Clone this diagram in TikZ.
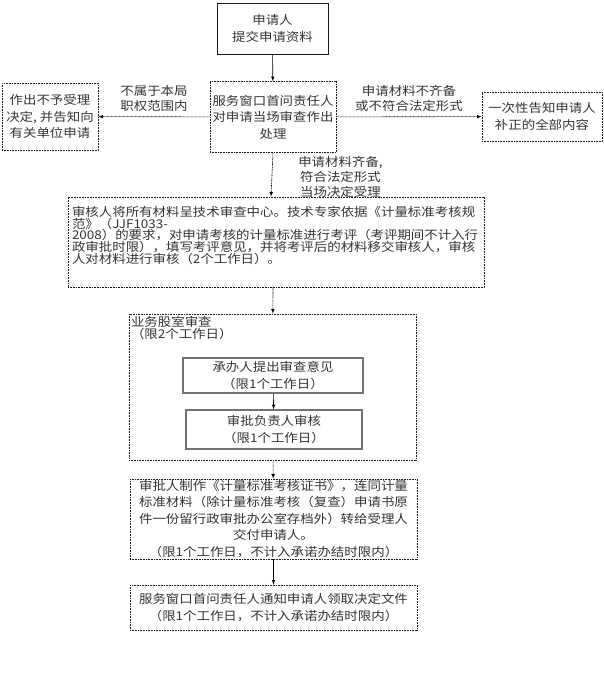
\documentclass[tikz,border=0pt]{standalone}
\usepackage{fontspec}
\setmainfont{Noto Sans CJK SC}[FakeStretch=1.12]
\usetikzlibrary{positioning}
\begin{document}
\begin{tikzpicture}[x=1pt, y=-1pt, -latex, semithick,
box/.style = {draw = black!90, dash pattern = on 1pt off 0.6pt, text = black!80, inner sep = 0pt, align = center,
font = \fontsize{12}{16.5}\selectfont},
solidbox/.style = {box, solid},
inbox/.style = {box, solid, draw = black!55, line width = 1.3pt},
lbl/.style = {text = black!80, align = center, inner sep = 2pt, font = \fontsize{12}{15}\selectfont},
arc_dot/.style = {dash pattern = on 1pt off 0.6pt, color = black},
arc_sol/.style = {solid, color = black}]
\useasboundingbox (0,0) rectangle (604,689);
\node[solidbox, minimum width = 111, minimum height = 51] (apply) at (272.5,28.5) {申请人\\提交申请资料};
\node[box, minimum width = 126, minimum height = 71] (check) at (273,117) {服务窗口首问责任人\\对申请当场审查作出\\处理};
\node[box, minimum width = 96, minimum height = 67] (reject) at (50,116.5) {作出不予受理\\决定, 并告知向\\有关单位申请};
\node[box, minimum width = 120, minimum height = 49] (notify) at (542,116.5) {一次性告知申请人\\补正的全部内容};
\node[box, align = left, text width = 408, minimum width = 416, minimum height = 90,
font = \fontsize{12}{11.5}\selectfont] (review) at (276,242)
{\lineskiplimit=-20pt\relax 审核人将所有材料呈技术审查中心。技术专家依据《计量标准考核规\\范》（JJF1033-\\2008）的要求，对申请考核的计量标准进行考评（考评期间不计入行\\政审批时限），填写考评意见，并将考评后的材料移交审核人，审核\\人对材料进行审核（2个工作日）。\rule[-14pt]{0pt}{14pt}};
\node[box, minimum width = 287, minimum height = 146,
label = {[name = grouptitle, anchor = north west, align = left, inner sep = 2pt, text = black!80,
font = \fontsize{12}{12}\selectfont]north west:业务股室审查\\（限2个工作日）}] (group) at (272.5,387) {};
\node[inbox, minimum width = 180, minimum height = 35] (handle) at (273,375.5) {承办人提出审查意见\\（限1个工作日）};
\node[inbox, minimum width = 176, minimum height = 39] (approve) at (274,429.5) {审批负责人审核\\（限1个工作日）};
\node[box, minimum width = 287, minimum height = 80] (cert) at (273.5,519)
{审批人制作《计量标准考核证书》，连同计量\\标准材料（除计量标准考核（复查）申请书原\\件一份留行政审批办公室存档外）转给受理人\\交付申请人。\\（限1个工作日，不计入承诺办结时限内）};
\node[box, minimum width = 287, minimum height = 45] (notice) at (273.5,607.5)
{服务窗口首问责任人通知申请人领取决定文件\\（限1个工作日，不计入承诺办结时限内）};
\path[arc_sol](apply) edge (check);
\path[arc_dot](check) edge node[lbl, above = 3pt] {不属于本局\\职权范围内} (reject);
\path[arc_dot](check) edge node[lbl, above = 3pt] {申请材料不齐备\\或不符合法定形式} (notify);
\path[arc_dot](check.south) edge node[lbl, right = 24pt, yshift = -2pt] {申请材料齐备,\\符合法定形式\\当场决定受理} ([xshift = -5pt]review.north);
\path[arc_dot]([xshift = -3pt]review.south) edge (group);
\path[arc_sol](handle) edge (approve);
\path[arc_dot](group) edge (cert);
\path[arc_sol](cert) edge (notice);
\end{tikzpicture}
\end{document}
